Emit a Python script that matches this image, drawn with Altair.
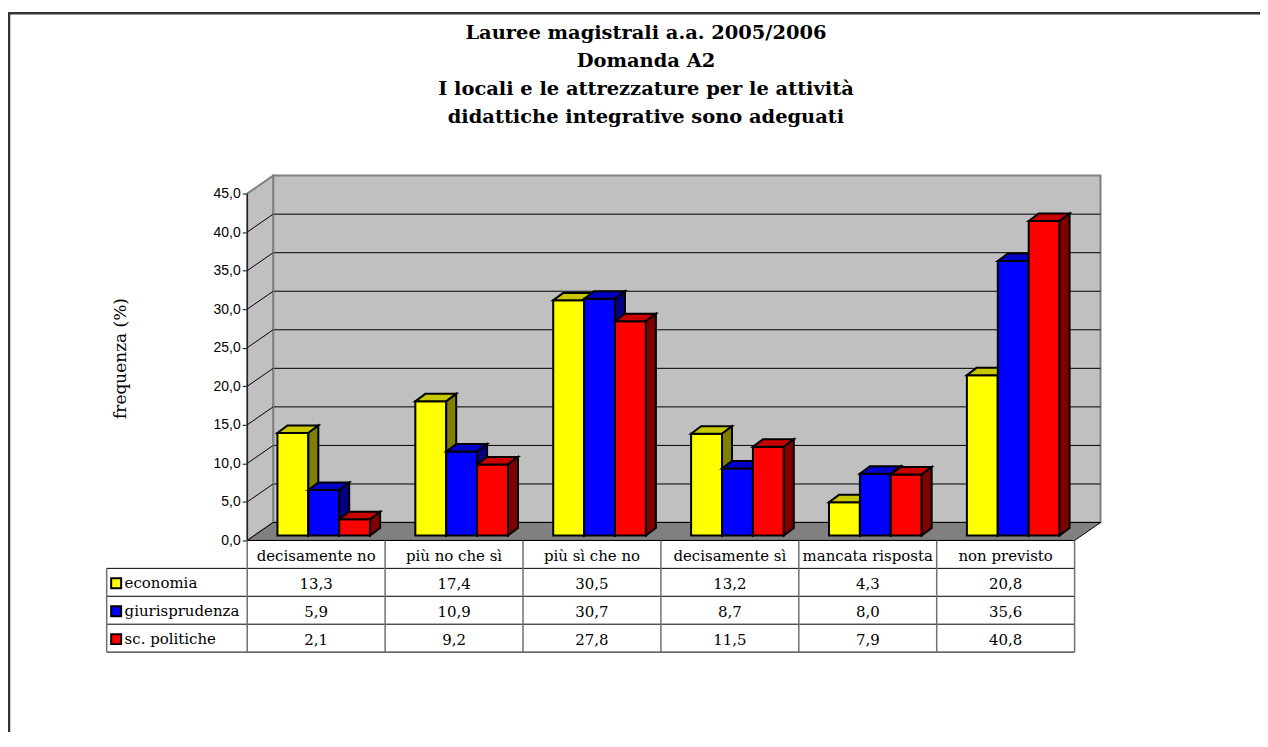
import altair as alt
import pandas as pd

# ---------------- data ----------------
categories = ["decisamente no", "più no che sì", "più sì che no",
              "decisamente sì", "mancata risposta", "non previsto"]
series = ["economia", "giurisprudenza", "sc. politiche"]
economia = [13.3, 17.4, 30.5, 13.2, 4.3, 20.8]
giurisprudenza = [5.9, 10.9, 30.7, 8.7, 8.0, 35.6]
politiche = [2.1, 9.2, 27.8, 11.5, 7.9, 40.8]
y_ticks = [0, 5, 10, 15, 20, 25, 30, 35, 40, 45]
title_lines = ["Lauree magistrali a.a. 2005/2006", "Domanda A2",
               "I locali e le attrezzature per le attività",
               "didattiche integrative sono adeguati"]
y_title = "frequenza (%)"

values = [economia, giurisprudenza, politiche]

# ---------------- styles ----------------
FRONT = ["#FFFF00", "#0000FF", "#FF0000"]
TOP = ["#C8C800", "#0000C8", "#C80000"]
SIDE = ["#808000", "#000080", "#800000"]
WALL = "#C0C0C0"
FLOOR = "#808080"
SERIF = "DejaVu Serif"
SANS = "Liberation Sans"

# ---------------- geometry (pixel sizes -> data units) ----------------
n = len(categories)
YTOP = max(y_ticks)
PLOT_H_AXIS = 348.0              # pixels from 0 to 45
UNIT = PLOT_H_AXIS / YTOP        # px per y unit
SLOT = 138.33                    # px per category slot
WALL_DX = 26 / SLOT
WALL_DY = 18 / UNIT
BAR_W = 31 / SLOT
BAR_OFF = 30.3 / SLOT
BAR_BASE = 5 / UNIT
BAR_DX = 10 / SLOT
BAR_DY = 7.5 / UNIT
ROW = 28 / UNIT
TABLE_LEFT = -141 / SLOT
TITLE_X = 400 / SLOT             # title centre, right of the front axis
TITLE_Y0 = 509 / UNIT            # first title line, above the zero line
TITLE_STEP = 28 / UNIT

W = int(round(n * SLOT + 26))
H = int(round(PLOT_H_AXIS + 18))

xs = alt.Scale(domain=[0, n + WALL_DX], nice=False, zero=False)
ys = alt.Scale(domain=[0, YTOP + WALL_DY], nice=False, zero=False)
yaxis = alt.Axis(values=y_ticks, domain=False, grid=False, ticks=True, tickSize=5,
                 tickColor="#000000", tickWidth=1,
                 labelExpr="replace(format(datum.value, '.1f'), '.', ',')",
                 labelFont=SANS, labelFontSize=14, labelColor="#000000", labelPadding=2,
                 title=y_title, titleFont=SERIF, titleFontSize=17, titleFontWeight="normal",
                 titleColor="#000000", titlePadding=84)


def X(f):
    return alt.X(f, type="quantitative", scale=xs, axis=None, stack=False)


def Y(f):
    return alt.Y(f, type="quantitative", scale=ys, axis=yaxis, stack=False)


X2 = lambda f: alt.X2(f)
Y2 = lambda f: alt.Y2(f)

layers = []

# back wall
back = pd.DataFrame({"x": [WALL_DX], "x2": [n + WALL_DX], "y": [WALL_DY], "y2": [YTOP + WALL_DY]})
layers.append(alt.Chart(back).mark_rect(fill=WALL, stroke="#808080", strokeWidth=2).encode(
    x=X("x"), x2=X2("x2"), y=Y("y"), y2=Y2("y2")))

# back wall gridlines
grid = pd.DataFrame({"y": [t + WALL_DY for t in y_ticks[1:-1]]})
grid["x"] = WALL_DX
grid["x2"] = n + WALL_DX
layers.append(alt.Chart(grid).mark_rule(color="#000000", strokeWidth=1).encode(
    x=X("x"), x2=X2("x2"), y=Y("y")))

# left side wall
lw = pd.DataFrame({"x": [0, WALL_DX], "y": [0, WALL_DY], "y2": [YTOP, YTOP + WALL_DY]})
layers.append(alt.Chart(lw).mark_area(fill=WALL, stroke="#808080", strokeWidth=2, orient="vertical").encode(
    x=X("x"), y=Y("y"), y2=Y2("y2")))

# diagonal gridlines on left wall
diag = pd.DataFrame({"x": 0.0, "x2": WALL_DX, "y": [float(t) for t in y_ticks[1:-1]]})
diag["y2"] = diag["y"] + WALL_DY
layers.append(alt.Chart(diag).mark_rule(color="#000000", strokeWidth=1).encode(
    x=X("x"), x2=X2("x2"), y=Y("y"), y2=Y2("y2")))

# floor
fl = pd.DataFrame({"y": [0, WALL_DY], "x": [0, WALL_DX], "x2": [n, n + WALL_DX]})
layers.append(alt.Chart(fl).mark_area(fill=FLOOR, stroke="#000000", strokeWidth=1, orient="horizontal").encode(
    y=Y("y"), x=X("x"), x2=X2("x2")))

# bars (3-D boxes)
for j, s in enumerate(series):
    fr, tp, sd = [], [], []
    for i, c in enumerate(categories):
        v = values[j][i]
        xl = i + BAR_OFF + j * BAR_W
        xr = xl + BAR_W
        yb = BAR_BASE
        yt = BAR_BASE + v
        fr.append({"c": c, "xl": xl, "xr": xr, "yb": yb, "yt": yt})
        tp.append({"c": c, "y": yt, "x": xl, "x2": xr})
        tp.append({"c": c, "y": yt + BAR_DY, "x": xl + BAR_DX, "x2": xr + BAR_DX})
        sd.append({"c": c, "x": xr, "y": yb, "y2": yt})
        sd.append({"c": c, "x": xr + BAR_DX, "y": yb + BAR_DY, "y2": yt + BAR_DY})
    layers.append(alt.Chart(pd.DataFrame(fr)).mark_rect(
        fill=FRONT[j], stroke="#000000", strokeWidth=2).encode(
        x=X("xl"), x2=X2("xr"), y=Y("yb"), y2=Y2("yt")))
    layers.append(alt.Chart(pd.DataFrame(tp)).mark_area(
        fill=TOP[j], stroke="#000000", strokeWidth=2, orient="horizontal").encode(
        y=Y("y"), x=X("x"), x2=X2("x2"), detail="c:N"))
    layers.append(alt.Chart(pd.DataFrame(sd)).mark_area(
        fill=SIDE[j], stroke="#000000", strokeWidth=2, orient="vertical").encode(
        x=X("x"), y=Y("y"), y2=Y2("y2"), detail="c:N"))

# y axis line (front)
ax = pd.DataFrame({"x": [0.0], "y": [0.0], "y2": [float(YTOP)]})
layers.append(alt.Chart(ax).mark_rule(color="#000000", strokeWidth=1).encode(
    x=X("x"), y=Y("y"), y2=Y2("y2")))

# table lines
hl = pd.DataFrame({"y": [-ROW * k for k in range(1, 5)]})
hl["x"] = TABLE_LEFT
hl["x2"] = float(n)
top_line = pd.DataFrame({"y": [0.0], "x": [0.0], "x2": [float(n)]})
vl = pd.DataFrame({"x": [float(k) for k in range(0, n + 1)]})
vl["y"] = 0.0
vl["y2"] = -4 * ROW
left_edge = pd.DataFrame({"x": [TABLE_LEFT], "y": [-ROW], "y2": [-4 * ROW]})
layers.append(alt.Chart(hl).mark_rule(color="#000000", strokeWidth=1).encode(
    x=X("x"), x2=X2("x2"), y=Y("y")))
layers.append(alt.Chart(top_line).mark_rule(color="#000000", strokeWidth=1).encode(
    x=X("x"), x2=X2("x2"), y=Y("y")))
layers.append(alt.Chart(vl).mark_rule(color="#707070", strokeWidth=1.5).encode(
    x=X("x"), y=Y("y"), y2=Y2("y2")))
layers.append(alt.Chart(left_edge).mark_rule(color="#707070", strokeWidth=1.5).encode(
    x=X("x"), y=Y("y"), y2=Y2("y2")))

# header labels
hdr = pd.DataFrame({"t": categories, "x": [i + 0.5 for i in range(n)], "y": -ROW / 2 - 2 / UNIT})
layers.append(alt.Chart(hdr).mark_text(font=SERIF, fontSize=15, color="#000000",
                                       align="center", baseline="middle").encode(
    x=X("x"), y=Y("y"), text="t:N"))

# value cells
cells = []
for j, s in enumerate(series):
    for i, c in enumerate(categories):
        cells.append({"t": f"{values[j][i]:.1f}".replace(".", ","),
                      "x": i + 0.5, "y": -ROW * (j + 1.5) - 2 / UNIT})
layers.append(alt.Chart(pd.DataFrame(cells)).mark_text(font=SERIF, fontSize=15, color="#000000",
                                                       align="center", baseline="middle").encode(
    x=X("x"), y=Y("y"), text="t:N"))

# legend column (names + color keys)
leg = pd.DataFrame({"s": series,
                    "y": [-ROW * (j + 1.5) - 1 / UNIT for j in range(len(series))]})
leg["xt"] = TABLE_LEFT + 18 / SLOT
leg["xk"] = TABLE_LEFT + 9.5 / SLOT
layers.append(alt.Chart(leg).mark_square(size=100, opacity=1, stroke="#000000", strokeWidth=2).encode(
    x=X("xk"), y=Y("y"),
    fill=alt.Fill("s:N", scale=alt.Scale(domain=series, range=FRONT), legend=None)))
layers.append(alt.Chart(leg).mark_text(font=SERIF, fontSize=15, color="#000000",
                                       align="left", baseline="middle").encode(
    x=X("xt"), y=Y("y"), text="s:N"))

# chart title (four centred lines)
ttl = pd.DataFrame({"t": title_lines,
                    "y": [TITLE_Y0 - k * TITLE_STEP for k in range(len(title_lines))]})
ttl["x"] = TITLE_X
layers.append(alt.Chart(ttl).mark_text(font=SERIF, fontSize=19.5, fontWeight="bold", color="#000000",
                                       align="center", baseline="middle").encode(
    x=X("x"), y=Y("y"), text="t:N"))

# outer frame of the picture
frame = pd.DataFrame({"k": [0]})
layers.append(alt.Chart(frame).mark_rect(fill="transparent", stroke="#333333", strokeWidth=2.5).encode(
    x=alt.value(-239), y=alt.value(-163), x2=alt.value(1400), y2=alt.value(1000)))

chart = alt.layer(*layers).properties(
    width=W, height=H,
    autosize=alt.AutoSizeParams(type="none"),
    padding={"left": 240, "top": 167, "right": 1256 - 240 - W, "bottom": 724 - 167 - H},
    background="#FFFFFF",
).configure_view(stroke="transparent")

chart.save("out.html", embed_options={"renderer": "svg", "actions": False})
